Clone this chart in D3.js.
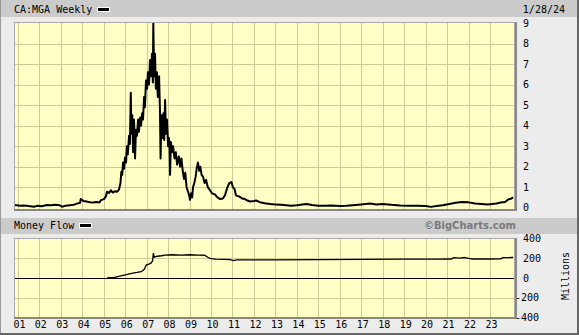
<!DOCTYPE html>
<html>
<head>
  <script src="https://d3js.org/d3.v7.min.js"></script>
  <style>
    body { margin: 0; background: #ececec; }
    .mono { font-family: "DejaVu Sans Mono", monospace; font-size: 10px; fill: #000; }
    .grid line { stroke: #cccc99; stroke-width: 1; shape-rendering: crispEdges; }
    .axis text { font-family: "DejaVu Sans Mono", monospace; font-size: 10px; fill: #000; }
    .price { fill: none; stroke: #000; stroke-width: 2; stroke-linejoin: round; }
    .flow { fill: none; stroke: #000; stroke-width: 1.3; }
  </style>
</head>
<body>
  <svg id="chart"></svg>
  <script>
    // weekly close, [decimal year, price]
    var price = [
      [2000.82, 0.13], [2000.95, 0.12], [2001.10, 0.10], [2001.30, 0.11], [2001.50, 0.08],
      [2001.75, 0.05], [2001.90, 0.09], [2002.10, 0.07], [2002.36, 0.13], [2002.55, 0.12],
      [2002.73, 0.14], [2002.95, 0.12], [2003.05, 0.05], [2003.20, 0.09], [2003.43, 0.12],
      [2003.60, 0.14], [2003.75, 0.20], [2003.90, 0.24], [2003.93, 0.42], [2004.05, 0.33],
      [2004.20, 0.30], [2004.35, 0.27], [2004.50, 0.25], [2004.65, 0.28], [2004.80, 0.25],
      [2004.87, 0.37], [2005.01, 0.42], [2005.10, 0.55], [2005.15, 0.78], [2005.25, 0.72],
      [2005.33, 0.85], [2005.42, 0.74], [2005.52, 0.80], [2005.62, 0.78], [2005.71, 0.88],
      [2005.78, 1.20], [2005.82, 1.75], [2005.86, 1.60], [2005.90, 2.20], [2005.95, 1.90],
      [2005.99, 2.45], [2006.04, 2.20], [2006.08, 3.00], [2006.12, 2.60], [2006.18, 3.50],
      [2006.22, 3.10], [2006.26, 5.60], [2006.29, 3.60], [2006.33, 4.50], [2006.37, 2.70],
      [2006.41, 4.30], [2006.46, 2.40], [2006.50, 3.80], [2006.55, 3.50], [2006.60, 4.30],
      [2006.64, 3.70], [2006.70, 4.40], [2006.74, 4.00], [2006.79, 4.60], [2006.83, 4.30],
      [2006.88, 5.40], [2006.92, 4.90], [2006.97, 6.20], [2007.02, 5.80], [2007.06, 6.60],
      [2007.11, 6.00], [2007.16, 7.20], [2007.20, 6.40], [2007.25, 7.50], [2007.29, 6.10],
      [2007.31, 9.00], [2007.35, 6.40], [2007.39, 7.50], [2007.43, 5.80], [2007.48, 6.60],
      [2007.52, 5.40], [2007.58, 6.40], [2007.62, 4.80], [2007.65, 2.40], [2007.69, 4.50],
      [2007.73, 3.40], [2007.78, 4.60], [2007.82, 3.30], [2007.86, 5.25], [2007.90, 3.60],
      [2007.95, 4.30], [2008.00, 3.00], [2008.04, 3.40], [2008.07, 2.90], [2008.09, 1.60],
      [2008.13, 3.20], [2008.18, 2.70], [2008.23, 3.00], [2008.30, 2.40], [2008.36, 2.70],
      [2008.42, 2.10], [2008.50, 2.50], [2008.56, 2.00], [2008.62, 2.40], [2008.68, 1.80],
      [2008.74, 1.40], [2008.80, 1.70], [2008.86, 1.00], [2008.92, 0.80], [2008.98, 0.60],
      [2009.02, 0.38], [2009.07, 0.70], [2009.12, 0.50], [2009.16, 1.00], [2009.22, 1.20],
      [2009.28, 1.50], [2009.33, 1.90], [2009.39, 2.20], [2009.45, 1.80], [2009.50, 2.00],
      [2009.56, 1.60], [2009.63, 1.50], [2009.70, 1.20], [2009.77, 1.35], [2009.85, 1.00],
      [2009.95, 0.85], [2010.05, 0.70], [2010.18, 0.65], [2010.30, 0.50], [2010.42, 0.42],
      [2010.55, 0.45], [2010.65, 0.60], [2010.75, 0.95], [2010.85, 1.20], [2010.95, 1.25],
      [2011.02, 1.00], [2011.10, 0.90], [2011.16, 0.60], [2011.30, 0.55], [2011.45, 0.45],
      [2011.58, 0.42], [2011.70, 0.35], [2011.82, 0.30], [2012.00, 0.33], [2012.10, 0.35],
      [2012.28, 0.27], [2012.50, 0.22], [2012.75, 0.18], [2013.00, 0.16], [2013.25, 0.14],
      [2013.50, 0.12], [2013.75, 0.10], [2014.00, 0.12], [2014.25, 0.16], [2014.45, 0.18],
      [2014.70, 0.13], [2015.00, 0.10], [2015.30, 0.09], [2015.60, 0.11], [2016.00, 0.08],
      [2016.30, 0.09], [2016.60, 0.12], [2017.00, 0.16], [2017.40, 0.20], [2017.70, 0.16],
      [2018.00, 0.18], [2018.40, 0.14], [2018.80, 0.11], [2019.20, 0.10], [2019.60, 0.09],
      [2020.00, 0.08], [2020.25, 0.04], [2020.50, 0.08], [2020.80, 0.12], [2021.10, 0.18],
      [2021.40, 0.24], [2021.70, 0.28], [2022.00, 0.26], [2022.30, 0.20], [2022.60, 0.18],
      [2022.90, 0.16], [2023.10, 0.18], [2023.30, 0.20], [2023.50, 0.25], [2023.70, 0.28],
      [2023.85, 0.40], [2024.00, 0.45], [2024.08, 0.50]
    ];

    // money flow, millions
    var moneyFlow = [
      [2005.15, 0], [2005.50, 5], [2005.80, 20], [2006.10, 35], [2006.30, 47],
      [2006.55, 55], [2006.75, 63], [2006.90, 90], [2006.98, 130], [2007.10, 140],
      [2007.20, 150], [2007.28, 175], [2007.31, 250], [2007.36, 210], [2007.50, 220],
      [2007.70, 225], [2007.85, 232], [2008.20, 235], [2008.60, 232], [2009.00, 235],
      [2009.40, 232], [2009.70, 230], [2009.85, 210], [2009.95, 199], [2010.20, 190],
      [2010.60, 188], [2010.90, 185], [2011.05, 175], [2011.20, 182], [2013.00, 184],
      [2015.00, 185], [2017.00, 188], [2019.00, 190], [2020.50, 190], [2021.20, 192],
      [2021.30, 205], [2021.60, 200], [2021.80, 207], [2022.00, 198], [2022.20, 192],
      [2023.00, 192], [2023.50, 193], [2023.60, 205], [2024.00, 207], [2024.08, 212]
    ];

    var yearTicks = d3.range(2001, 2024);
    var priceTicks = [0, 1, 2, 3, 4, 5, 6, 7, 8, 9];
    var flowTicks = [-400, -200, 0, 200, 400];

    function toDate(y) {
      var yr = Math.floor(y);
      var a = Date.UTC(yr, 0, 1), b = Date.UTC(yr + 1, 0, 1);
      return new Date(a + (y - yr) * (b - a));
    }

    var W = 579, H = 335;
    var left = 14, right = 515;
    var top1 = 22, bot1 = 209;
    var top2 = 238, bot2 = 317;

    var svg = d3.select("#chart").attr("width", W).attr("height", H);

    svg.append("rect").attr("width", W).attr("height", H).attr("fill", "#ececec");

    // header bars
    svg.append("rect").attr("x", 0).attr("y", 0).attr("width", 577).attr("height", 17).attr("fill", "#cbcbcb");
    svg.append("rect").attr("x", 0).attr("y", 218).attr("width", 577).attr("height", 16).attr("fill", "#cbcbcb");

    var x = d3.scaleUtc()
      .domain([toDate(2000.818), toDate(2024.165)])
      .range([left, right]);

    var y1 = d3.scaleLinear().domain([0, 9]).range([207.7, 23]);
    var y2 = d3.scaleLinear().domain([-400, 400]).range([317.3, 238.5]);

    function panel(t, b, yScale, hTicks, id) {
      svg.append("rect")
        .attr("x", left).attr("y", t)
        .attr("width", right - left).attr("height", b - t)
        .attr("fill", "#ffffc6");

      var g = svg.append("g").attr("class", "grid");
      g.selectAll(".v").data(yearTicks).enter().append("line")
        .attr("x1", function(d) { return Math.round(x(toDate(d))) + 0.5; })
        .attr("x2", function(d) { return Math.round(x(toDate(d))) + 0.5; })
        .attr("y1", t).attr("y2", b);
      g.selectAll(".h").data(hTicks).enter().append("line")
        .attr("x1", left).attr("x2", right)
        .attr("y1", function(d) { return Math.round(yScale(d)) + 0.5; })
        .attr("y2", function(d) { return Math.round(yScale(d)) + 0.5; });

      svg.append("clipPath").attr("id", id)
        .append("rect").attr("x", left).attr("y", t).attr("width", right - left).attr("height", b - t);
    }

    panel(top1, bot1, y1, [1, 2, 3, 4, 5, 6, 7, 8], "clip1");
    panel(top2, bot2, y2, [-200, 200], "clip2");

    // zero line
    svg.append("line")
      .attr("x1", left).attr("x2", right)
      .attr("y1", Math.round(y2(0)) + 0.5).attr("y2", Math.round(y2(0)) + 0.5)
      .attr("stroke", "#000").attr("stroke-width", 1);

    svg.append("path")
      .datum(price)
      .attr("class", "price")
      .attr("clip-path", "url(#clip1)")
      .attr("d", d3.line()
        .x(function(d) { return x(toDate(d[0])); })
        .y(function(d) { return y1(d[1]); }));

    svg.append("path")
      .datum(moneyFlow)
      .attr("class", "flow")
      .attr("clip-path", "url(#clip2)")
      .attr("d", d3.line()
        .x(function(d) { return x(toDate(d[0])); })
        .y(function(d) { return y2(d[1]); }));

    // plot borders
    [[top1, bot1], [top2, bot2]].forEach(function(p) {
      svg.append("rect")
        .attr("x", left + 0.5).attr("y", p[0] + 0.5)
        .attr("width", right - left - 1).attr("height", p[1] - p[0])
        .attr("fill", "none").attr("stroke", "#a8a8a8");
      svg.append("line")
        .attr("x1", left).attr("x2", right + 1)
        .attr("y1", p[1] + 1).attr("y2", p[1] + 1)
        .attr("stroke", "#888").attr("stroke-width", 2);
      svg.append("line")
        .attr("x1", right + 1).attr("x2", right + 1)
        .attr("y1", p[0]).attr("y2", p[1] + 2)
        .attr("stroke", "#888").attr("stroke-width", 2);
    });

    // axes
    var xAxis = svg.append("g")
      .attr("class", "axis")
      .attr("transform", "translate(0," + 319 + ")")
      .call(d3.axisBottom(x)
        .tickValues(yearTicks.map(toDate))
        .tickFormat(d3.utcFormat("%y"))
        .tickSize(0).tickPadding(2));
    xAxis.select(".domain").remove();
    xAxis.selectAll("text").attr("dy", "0.71em").attr("dx", 1);

    var yAxis1 = svg.append("g")
      .attr("class", "axis")
      .attr("transform", "translate(" + right + ",0)")
      .call(d3.axisRight(y1).tickValues(priceTicks).tickSize(0).tickPadding(8));
    yAxis1.select(".domain").remove();

    var yAxis2 = svg.append("g")
      .attr("class", "axis")
      .attr("transform", "translate(" + right + ",0)")
      .call(d3.axisRight(y2).tickValues(flowTicks)
        .tickFormat(function(d) { return d < 0 ? "-" + Math.abs(d) : String(d); })
        .tickSize(0).tickPadding(8));
    yAxis2.select(".domain").remove();
    yAxis2.selectAll("text").attr("dx", function(d) { return d < 0 ? -8 : 0; });

    // header texts
    svg.append("text").attr("class", "mono").attr("x", 14).attr("y", 13).text("CA:MGA Weekly");
    svg.append("rect").attr("x", 97).attr("y", 7).attr("width", 13).attr("height", 5).attr("fill", "#fff");
    svg.append("rect").attr("x", 98).attr("y", 8).attr("width", 11).attr("height", 3).attr("fill", "#000");
    svg.append("text").attr("class", "mono").attr("x", 565).attr("y", 13)
      .attr("text-anchor", "end").text("1/28/24");

    svg.append("text").attr("class", "mono").attr("x", 14).attr("y", 229).text("Money Flow");
    svg.append("rect").attr("x", 79).attr("y", 223).attr("width", 13).attr("height", 5).attr("fill", "#fff");
    svg.append("rect").attr("x", 80).attr("y", 224).attr("width", 11).attr("height", 3).attr("fill", "#000");

    svg.append("text")
      .attr("x", 516).attr("y", 229)
      .attr("text-anchor", "end")
      .style("font-family", "'DejaVu Sans', sans-serif")
      .style("font-size", "10px")
      .style("font-weight", "bold")
      .style("fill", "#7a7a7a")
      .text("\u00A9BigCharts.com");

    svg.append("text")
      .attr("class", "mono")
      .attr("transform", "translate(569,276) rotate(-90)")
      .attr("text-anchor", "middle")
      .text("Millions");

    // outer frame
    svg.append("line").attr("x1", 0.5).attr("x2", 0.5).attr("y1", 0).attr("y2", 334).attr("stroke", "#9a9a9a");
    svg.append("line").attr("x1", 578).attr("x2", 578).attr("y1", 0).attr("y2", 335).attr("stroke", "#666").attr("stroke-width", 2);
    svg.append("line").attr("x1", 0).attr("x2", 579).attr("y1", 334).attr("y2", 334).attr("stroke", "#666").attr("stroke-width", 2);
  </script>
</body>
</html>
